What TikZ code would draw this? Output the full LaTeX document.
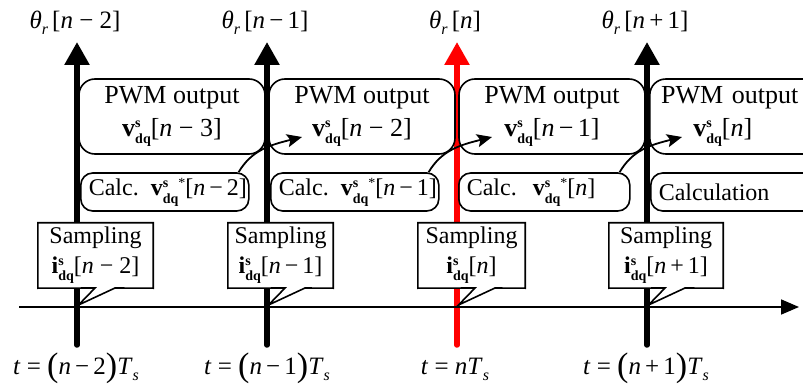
\documentclass[tikz,border=0pt]{standalone}
\usepackage{fontspec}
\setmainfont{Liberation Serif}
\usetikzlibrary{arrows.meta,calc}
\pgfdeclarelayer{bg}\pgfdeclarelayer{lines}\pgfdeclarelayer{fills}
\pgfsetlayers{bg,lines,fills,main}
\newcommand\bsup[1]{\rlap{\raisebox{0.34em}{\fontsize{14}{14}\selectfont\bfseries #1}}}
\newcommand\bsub[1]{\raisebox{-0.3em}{\fontsize{14}{14}\selectfont\bfseries #1}}
\newcommand\vdq{\textbf{v}\bsup{s}\bsub{dq}}
\newcommand\idq{\textbf{i}\bsup{s}\bsub{dq}}
\newcommand\refstar{\raisebox{0.36em}{\fontsize{14}{14}\selectfont *}}
\newcommand\isub[1]{\raisebox{-0.24em}{\fontsize{16}{16}\selectfont\itshape #1}}
\newcommand\thr{\textit{θ}\isub{r}\,}
\newcommand\bigpar[1]{\raisebox{-0.1em}{\fontsize{34}{34}\selectfont #1}}
\begin{document}
\begin{tikzpicture}[x=1pt,y=-1pt,
  pwm/.style={draw, line width=1.6pt, rounded corners=16pt, minimum height=75pt,
    inner sep=0pt, align=center, font=\fontsize{26}{33}\selectfont},
  calcbox/.style={draw, line width=1.6pt, rounded corners=12pt, minimum height=38pt,
    inner xsep=8pt, inner ysep=0pt, align=left, anchor=west, font=\fontsize{24}{28}\selectfont},
  samp/.style={inner sep=0pt, minimum height=65pt, align=center, font=\fontsize{24}{30}\selectfont},
  callout/.style={draw, fill=white, line width=1.6pt, line join=miter},
  tline/.style={line width=5.5pt, line cap=round, -{Triangle[length=23pt,width=24pt]}},
  axisline/.style={line width=1.8pt, -{Triangle[length=18pt,width=15pt]}},
  flow/.style={line width=1.8pt, -{Stealth[length=15pt,width=13pt,inset=3pt]}},
  lab/.style={anchor=base, inner sep=0pt, font=\fontsize{25}{28}\selectfont}
]
\useasboundingbox (0,0) rectangle (803,390);
\begin{pgfonlayer}{bg}
\fill[white] (0,0) rectangle (803,390);
\end{pgfonlayer}

% time instants
\coordinate (b1) at (77,345);  \coordinate (t1) at (77,42);
\coordinate (b2) at (267,345); \coordinate (t2) at (267,42);
\coordinate (b3) at (457,345); \coordinate (t3) at (457,42);
\coordinate (b4) at (647,345); \coordinate (t4) at (647,42);
\coordinate (ax0) at (19,307); \coordinate (ax1) at (799,307);

\begin{pgfonlayer}{lines}
\draw[tline] (b1) -- (t1);
\draw[tline] (b2) -- (t2);
\draw[tline, red] (b3) -- (t3);
\draw[tline] (b4) -- (t4);
\draw[axisline] (ax0) -- (ax1);
\end{pgfonlayer}

% top labels
\node[lab] (th1) at (75,29) {\thr[\textit{n} − 2]};
\node[lab] (th2) at (265,29) {\thr[\textit{n}\,−\,1]};
\node[lab] (th3) at (455,29) {\thr[\textit{n}]};
\node[lab] (th4) at (645,29) {\thr[\textit{n}\,+\,1]};

% bottom labels
\node[lab] (tt1) at (76,374) {\textit{t} = \bigpar{(}\textit{n}\,−\,2\bigpar{)}\textit{T}\isub{s}};
\node[lab] (tt2) at (267,374) {\textit{t} = \bigpar{(}\textit{n}\,−\,1\bigpar{)}\textit{T}\isub{s}};
\node[lab] (tt3) at (455,374) {\textit{t} = \textit{nT}\isub{s}};
\node[lab] (tt4) at (646,374) {\textit{t} = \bigpar{(}\textit{n}\,+\,1\bigpar{)}\textit{T}\isub{s}};

% PWM output boxes
\node[pwm, minimum width=186pt] (p1) at (172,116.5) {PWM output\\ \vdq[\textit{n} − 3]};
\node[pwm, minimum width=186pt] (p2) at (362,116.5) {PWM output\\ \vdq[\textit{n} − 2]};
\node[pwm, minimum width=186pt] (p3) at (552,116.5) {PWM output\\ \vdq[\textit{n}\,−\,1]};
\node[pwm, anchor=west, align=left, text width=200pt] (p4) at (649,116.5)
  {\makebox[160pt]{PWM output}\\ \makebox[146pt]{\vdq[\textit{n}]}};

% calculation boxes
\node[calcbox, text width=152pt] (c1) at (80,192) {\mbox{Calc. \vdq\refstar[\textit{n}\,−\,2]}};
\node[calcbox, text width=152pt] (c2) at (270,192) {\mbox{Calc. \vdq\refstar[\textit{n}\,−\,1]}};
\node[calcbox, text width=155pt] (c3) at (458,192) {\mbox{Calc.\ \ \vdq\refstar[\textit{n}]}};
\node[calcbox, text width=184pt] (c4) at (650,192) {Calculation};

% flow arrows from calculation to next PWM output
\coordinate (f1s) at ($(c1.north east)+(-11,0)$); \coordinate (f1e) at (302,137);
\coordinate (f2s) at ($(c2.north east)+(-11,0)$); \coordinate (f2e) at (492,137);
\coordinate (f3s) at ($(c3.north east)+(-11,0)$); \coordinate (f3e) at (682,137);
\draw[flow] (f1s) .. controls +(13,-22) and +(-32,8) .. (f1e);
\draw[flow] (f2s) .. controls +(13,-22) and +(-32,8) .. (f2e);
\draw[flow] (f3s) .. controls +(13,-22) and +(-32,8) .. (f3e);

% sampling callouts
\node[samp, minimum width=115pt] (s1) at (95.5,255.5) {Sampling\\ \idq[\textit{n} − 2]};
\node[samp, minimum width=105pt] (s2) at (280.5,255.5) {Sampling\\ \idq[\textit{n}\,−\,1]};
\node[samp, minimum width=107pt] (s3) at (471.5,255.5) {Sampling\\ \idq[\textit{n}]};
\node[samp, minimum width=114pt] (s4) at (666,255.5) {Sampling\\ \idq[\textit{n}\,+\,1]};
\foreach \i/\x in {1/77,2/267,3/457,4/647}{
  \coordinate (q\i a) at (\x+18,288);
  \coordinate (q\i b) at (\x+38,288);
  \coordinate (q\i t) at (\x+1.5,305);
}
\begin{pgfonlayer}{fills}
\foreach \i in {1,...,4}{
  \draw[callout] (s\i.south west) -- (s\i.north west) -- (s\i.north east) -- (s\i.south east)
    -- (q\i b) -- (q\i t) -- (q\i a) -- cycle;
}
\end{pgfonlayer}
\end{tikzpicture}
\end{document}
